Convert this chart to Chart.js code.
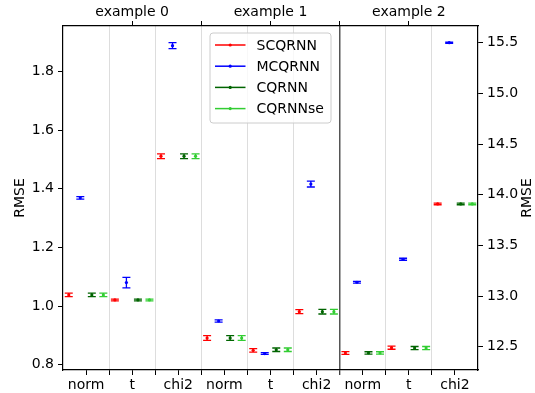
<!DOCTYPE html>
<html><head><meta charset="utf-8">
<script src="https://cdn.jsdelivr.net/npm/chart.js@4.4.1/dist/chart.umd.min.js"></script>
<style>html,body{margin:0;padding:0;background:#fff;}#wrap{width:535px;height:393px;}</style>
</head><body><div id="wrap"><canvas id="c" width="535" height="393"></canvas></div>
<script>
const panels = ['example 0', 'example 1', 'example 2'];
const categories = ['norm', 't', 'chi2'];
const seriesNames = ['SCQRNN', 'MCQRNN', 'CQRNN', 'CQRNNse'];
const seriesColors = ['#ff0000', '#0000ff', '#006400', '#32cd32'];
// values per series: example 0 (norm,t,chi2), example 1 (norm,t,chi2), example 2 (norm,t,chi2)
const scqrnnMean = [1.038, 1.021, 1.511, 0.891, 0.849, 0.981, 12.438, 12.490, 13.909];
const scqrnnErr  = [0.006, 0.003, 0.008, 0.008, 0.006, 0.007, 0.014, 0.015, 0.008];
const mcqrnnMean = [1.369, 1.080, 1.888, 0.949, 0.838, 1.416, 13.136, 13.363, 15.500];
const mcqrnnErr  = [0.004, 0.018, 0.010, 0.004, 0.003, 0.010, 0.008, 0.010, 0.005];
const cqrnnMean  = [1.038, 1.021, 1.511, 0.891, 0.851, 0.981, 12.438, 12.487, 13.909];
const cqrnnErr   = [0.006, 0.003, 0.008, 0.008, 0.006, 0.008, 0.012, 0.015, 0.008];
const cqrnnseMean = [1.038, 1.021, 1.511, 0.891, 0.851, 0.981, 12.438, 12.487, 13.909];
const cqrnnseErr  = [0.006, 0.003, 0.008, 0.008, 0.006, 0.008, 0.012, 0.015, 0.008];
const leftTicks = [0.8, 1.0, 1.2, 1.4, 1.6, 1.8];
const rightTicks = [12.5, 13.0, 13.5, 14.0, 14.5, 15.0, 15.5];
const leftRange = [0.782, 1.955];
const rightRange = [12.27, 15.665];
const yLabel = 'RMSE';

const means = [scqrnnMean, mcqrnnMean, cqrnnMean, cqrnnseMean];
const errs = [scqrnnErr, mcqrnnErr, cqrnnErr, cqrnnseErr];
const nCat = panels.length * categories.length;
const FONT = 'DejaVu Sans, sans-serif';
const darkDivider = (panels.length - 1) * categories.length - 0.5; // left border of last (right-axis) panel

const datasets = [];
seriesNames.forEach((name, s) => {
  const off = -0.375 + 0.25 * s;
  const groups = [
    { axis: 'y', idx: [0, 1, 2, 3, 4, 5] },
    { axis: 'y2', idx: [6, 7, 8] }
  ];
  groups.forEach(g => {
    datasets.push({
      label: name,
      yAxisID: g.axis,
      xAxisID: 'x',
      showLine: false,
      data: g.idx.map(i => ({ x: i + off, y: means[s][i] })),
      errs: g.idx.map(i => errs[s][i]),
      borderColor: seriesColors[s],
      backgroundColor: seriesColors[s],
      pointRadius: 1.6,
      pointBorderWidth: 0,
      pointHoverRadius: 1.6
    });
  });
});

const errorBars = {
  id: 'errorBars',
  afterDatasetsDraw(chart) {
    const ctx = chart.ctx, a = chart.chartArea;
    ctx.save();
    ctx.beginPath(); ctx.rect(a.left, a.top, a.right - a.left, a.bottom - a.top); ctx.clip();
    chart.data.datasets.forEach((ds, i) => {
      const meta = chart.getDatasetMeta(i);
      const ys = chart.scales[ds.yAxisID];
      ctx.strokeStyle = ds.borderColor;
      ctx.lineWidth = 1.3;
      meta.data.forEach((pt, j) => {
        const v = ds.data[j].y, e = ds.errs[j];
        const y1 = ys.getPixelForValue(v + e), y2 = ys.getPixelForValue(v - e);
        const x = pt.x;
        ctx.beginPath();
        ctx.moveTo(x, y1); ctx.lineTo(x, y2);
        ctx.moveTo(x - 4, y1); ctx.lineTo(x + 4, y1);
        ctx.moveTo(x - 4, y2); ctx.lineTo(x + 4, y2);
        ctx.stroke();
      });
    });
    ctx.restore();
  }
};

const extras = {
  id: 'extras',
  afterDraw(chart) {
    const ctx = chart.ctx, a = chart.chartArea;
    ctx.save();
    ctx.fillStyle = '#000';
    ctx.font = '14px ' + FONT;
    ctx.textAlign = 'center';
    ctx.textBaseline = 'middle';
    const cy = (a.top + a.bottom) / 2;
    ctx.save(); ctx.translate(20, cy); ctx.rotate(-Math.PI / 2); ctx.fillText(yLabel, 0, 0); ctx.restore();
    ctx.save(); ctx.translate(527, cy); ctx.rotate(-Math.PI / 2); ctx.fillText(yLabel, 0, 0); ctx.restore();
    // legend
    const bx = 210, by = 33, bw = 121, bh = 90;
    ctx.beginPath();
    ctx.roundRect(bx, by, bw, bh, 3);
    ctx.fillStyle = 'rgba(255,255,255,0.8)';
    ctx.fill();
    ctx.strokeStyle = '#cccccc';
    ctx.lineWidth = 1;
    ctx.stroke();
    ctx.textAlign = 'left';
    seriesNames.forEach((n, s) => {
      const ry = 45 + s * 21.2;
      ctx.strokeStyle = seriesColors[s];
      ctx.lineWidth = 1.5;
      ctx.beginPath(); ctx.moveTo(215, ry); ctx.lineTo(245.5, ry); ctx.stroke();
      ctx.fillStyle = seriesColors[s];
      ctx.beginPath(); ctx.arc(230.2, ry, 1.6, 0, Math.PI * 2); ctx.fill();
      ctx.fillStyle = '#000';
      ctx.fillText(n, 256.5, ry + 1);
    });
    ctx.restore();
  }
};

const bottomTicks = [];
for (let v = 0; v <= nCat - 1; v += 0.5) bottomTicks.push(v);
const topTicks = [];
for (let p = 0; p < panels.length; p++) { topTicks.push(p * 3 + 1); if (p < panels.length - 1) topTicks.push(p * 3 + 2.5); }

const tickFont = { family: FONT, size: 14 };
const isDark = v => Math.abs(v - darkDivider) < 1e-9;

new Chart(document.getElementById('c'), {
  type: 'scatter',
  data: { datasets },
  plugins: [errorBars, extras],
  options: {
    responsive: false,
    devicePixelRatio: 1,
    animation: false,
    events: [],
    layout: { padding: 0 },
    plugins: { legend: { display: false }, tooltip: { enabled: false } },
    scales: {
      x: {
        type: 'linear', position: 'bottom', min: -0.5, max: nCat - 0.5,
        afterBuildTicks: sc => { sc.ticks = bottomTicks.map(v => ({ value: v })); },
        afterFit: sc => { sc.height = 23; },
        ticks: {
          autoSkip: false, maxRotation: 0, padding: 2, color: '#000', font: tickFont,
          callback: v => Number.isInteger(v) ? categories[v % categories.length] : ''
        },
        grid: {
          drawOnChartArea: true, tickLength: 5, tickColor: '#000', tickWidth: 1,
          color: c => {
            const v = c.tick ? c.tick.value : 0;
            if (Number.isInteger(v)) return 'rgba(0,0,0,0)';
            if (isDark(v)) return '#555555';
            return '#dddddd';
          },
          lineWidth: c => {
            const v = c.tick ? c.tick.value : 0;
            return isDark(v) ? 1.5 : 1;
          }
        },
        border: { display: true, color: '#000', width: 1.2 }
      },
      xTop: {
        type: 'linear', position: 'top', min: -0.5, max: nCat - 0.5,
        afterBuildTicks: sc => { sc.ticks = topTicks.map(v => ({ value: v })); },
        afterFit: sc => { sc.height = 26; },
        ticks: {
          autoSkip: false, maxRotation: 0, padding: 0, color: '#000', font: tickFont,
          callback: v => Number.isInteger(v) ? panels[(v - 1) / 3] : ''
        },
        grid: { drawOnChartArea: false, tickLength: 5, tickColor: '#000' },
        border: { display: true, color: '#000', width: 1.2 }
      },
      y: {
        type: 'linear', position: 'left', min: leftRange[0], max: leftRange[1],
        afterBuildTicks: sc => { sc.ticks = leftTicks.map(v => ({ value: v })); },
        afterFit: sc => { sc.width = 63; },
        ticks: { padding: 4, color: '#000', font: tickFont, callback: v => v.toFixed(1) },
        grid: { drawOnChartArea: false, tickLength: 5, tickColor: '#000' },
        border: { display: true, color: '#000', width: 1.2 }
      },
      y2: {
        type: 'linear', position: 'right', min: rightRange[0], max: rightRange[1],
        afterBuildTicks: sc => { sc.ticks = rightTicks.map(v => ({ value: v })); },
        afterFit: sc => { sc.width = 57; },
        ticks: { padding: 4, color: '#000', font: tickFont, callback: v => v.toFixed(1) },
        grid: { drawOnChartArea: false, tickLength: 5, tickColor: '#000' },
        border: { display: true, color: '#000', width: 1.2 }
      }
    }
  }
});
</script></body></html>
